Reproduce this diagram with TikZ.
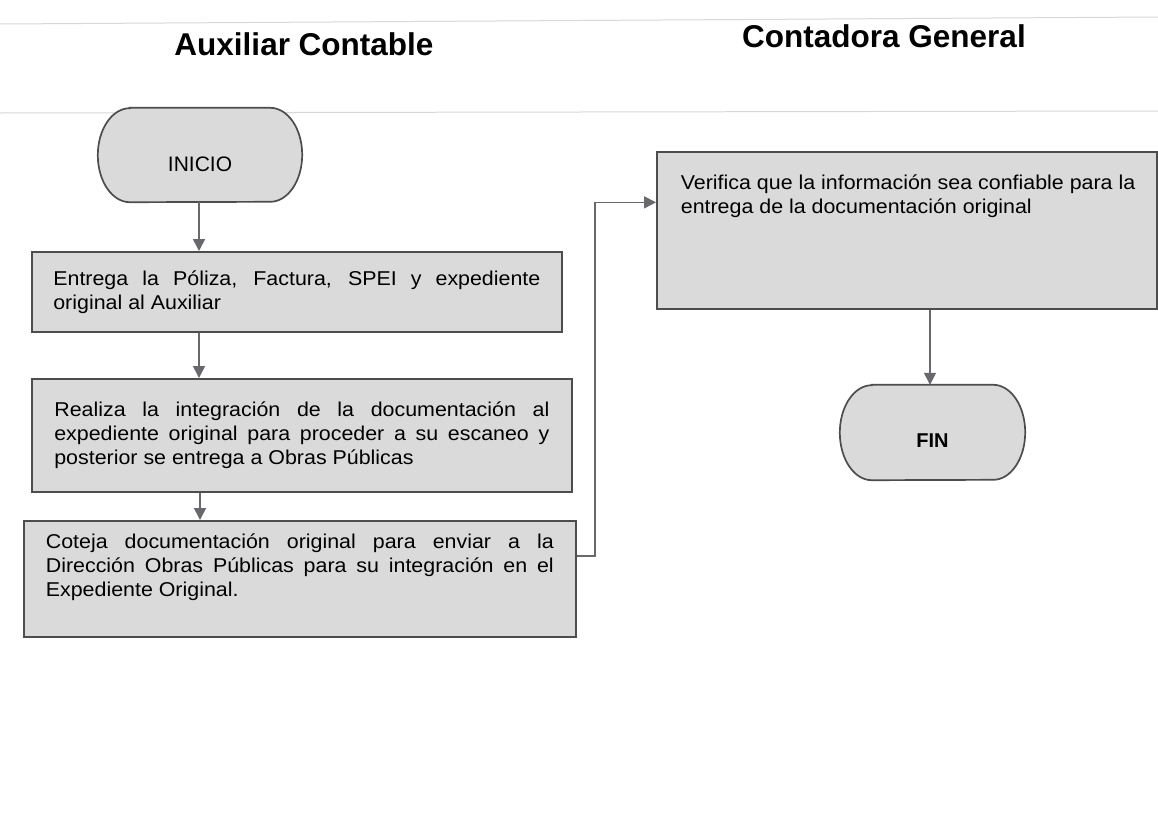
\documentclass[tikz,border=0pt]{standalone}
\usepackage{fontspec}
\setmainfont{Liberation Sans}
\newfontfamily\bodyfont[FakeStretch=1.07]{Liberation Sans}
\usetikzlibrary{arrows.meta,backgrounds}
\definecolor{boxfill}{HTML}{DADADA}
\definecolor{boxline}{HTML}{4D4D4D}
\definecolor{arrowc}{HTML}{6B676F}
\definecolor{faint}{HTML}{D8D8D8}
\newcommand\termoutline[3]{%
  \filldraw[termline] ([xshift=#2]#1.north west) -- ([xshift=-#2]#1.north east)
    arc[start angle=90,end angle=-90,x radius=#2,y radius=#3]
    -- ([xshift=#2]#1.south west)
    arc[start angle=-90,end angle=-270,x radius=#2,y radius=#3] -- cycle;}
\begin{document}
\begin{tikzpicture}[x=1pt,y=-1pt,
  procbox/.style={draw=boxline, fill=boxfill, line width=1.7pt, anchor=north west,
    align=justify, font=\bodyfont\fontsize{20}{24}\selectfont, inner sep=4pt},
  termnode/.style={inner sep=2pt},
  termline/.style={draw=boxline, fill=boxfill, line width=1.7pt},
  arr/.style={draw=arrowc, line width=1.6pt, -{Triangle[width=12pt,length=12pt]}},
  lanetitle/.style={font=\fontsize{31.5}{36}\selectfont\bfseries},
  faintline/.style={draw=faint, line width=1pt}]
\useasboundingbox (0,0) rectangle (1158,822);

\node[lanetitle] (t1) at (304,44) {Auxiliar Contable};
\node[lanetitle] (t2) at (884,36) {Contadora General};

\node[termnode, minimum width=204pt, minimum height=94pt, font=\fontsize{21}{24}\selectfont] (inicio) at (200,155)
  {\raisebox{-9pt}[14pt][0pt]{INICIO}};

\node[procbox, minimum width=530pt, minimum height=80pt, text width=487pt] (b1) at (31,251)
  {Entrega la Póliza, Factura, SPEI y expediente\linebreak original al Auxiliar};

\node[procbox, minimum width=540pt, minimum height=113pt, text width=495pt] (b2) at (31,378)
  {Realiza la integración de la documentación al\linebreak expediente original para proceder a su escaneo y\linebreak posterior se entrega a Obras Públicas};

\node[procbox, minimum width=552pt, minimum height=116pt, text width=508pt] (b3) at (23,520)
  {Coteja documentación original para enviar a la\linebreak Dirección Obras Públicas para su integración en el\linebreak Expediente Original.\\[3pt]};

\node[procbox, minimum width=500pt, minimum height=157pt, align=left] (b4) at (656,151)
  {\hspace*{14pt}\parbox[c][112pt][t]{466pt}{\raggedright Verifica que la información sea confiable para la\\ entrega de la documentación original}};

\node[termnode, minimum width=185pt, minimum height=95pt, font=\fontsize{20}{24}\selectfont\bfseries] (fin) at (932.5,432.5)
  {\raisebox{-8pt}[14pt][0pt]{FIN}};

\begin{scope}[on background layer]
  \fill[white] (0,0) rectangle (1158,822);
  \draw[faintline] (0,24) -- (1158,17);
  \draw[faintline] (0,113) -- (1158,111);
  \termoutline{inicio}{32pt}{47pt}
  \termoutline{fin}{32pt}{47.5pt}
\end{scope}

\draw[arr] ([xshift=-1pt]inicio.south) -- ([xshift=-1pt]inicio.south |- b1.north);
\draw[arr] ([xshift=-1pt]inicio.south |- b1.south) -- ([xshift=-1pt]inicio.south |- b2.north);
\draw[arr] (inicio.south |- b2.south) -- (inicio.south |- b3.north);
\draw[arr] ([yshift=23pt]b3.east) -- ++(18,0) |- ([yshift=28pt]b4.west);
\draw[arr] ([xshift=-2.5pt]fin.north |- b4.south) -- ([xshift=-2.5pt]fin.north);
\end{tikzpicture}
\end{document}
